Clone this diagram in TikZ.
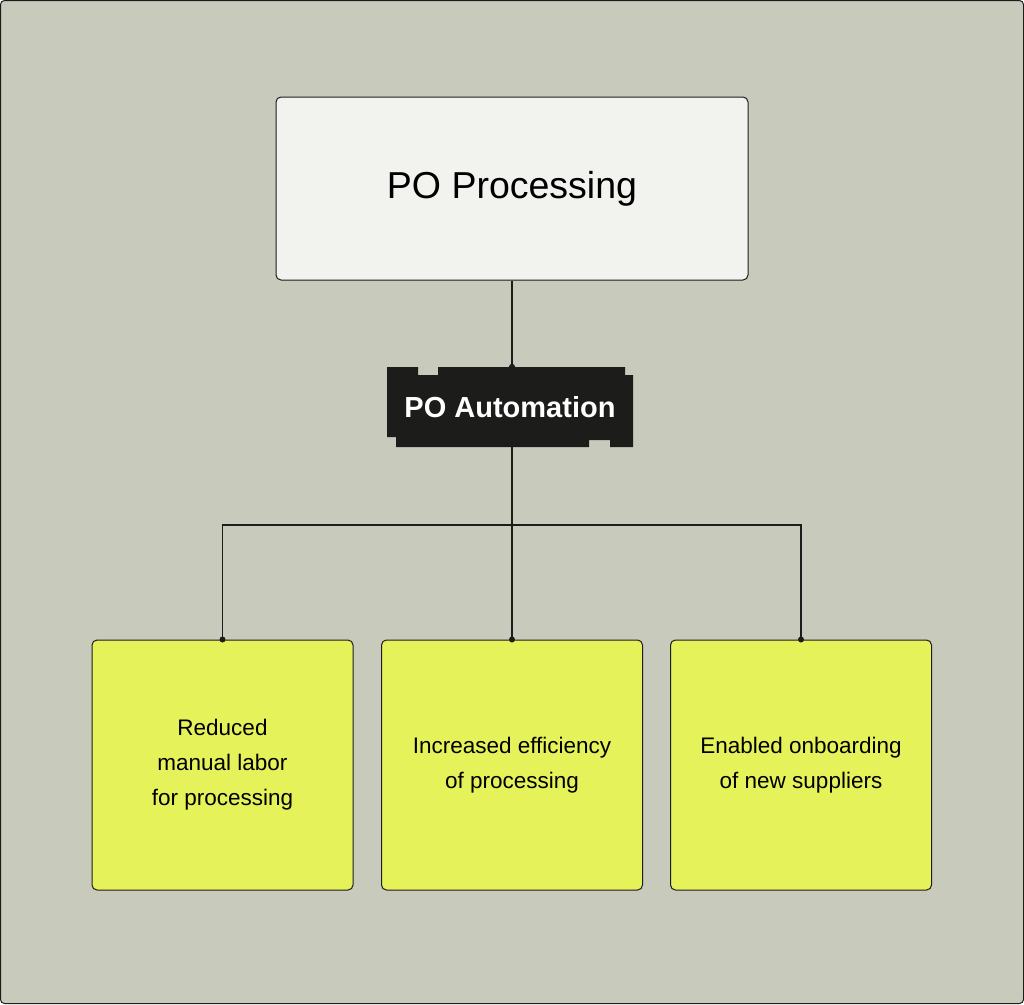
\documentclass[tikz,border=0pt]{standalone}
\usepackage{fontspec}
\setmainfont{Liberation Sans}
\definecolor{bg}{HTML}{C8CABC}
\definecolor{topf}{HTML}{F2F2EF}
\definecolor{yel}{HTML}{E6F25A}
\definecolor{ink}{HTML}{1C1C1A}
\begin{document}
\begin{tikzpicture}[x=1pt,y=-1pt,
  box/.style={draw=ink,line width=1pt,rounded corners=5pt,inner sep=0pt},
  leaf/.style={box,fill=yel,minimum width=261pt,minimum height=250pt,align=center,font=\fontsize{22.5}{35}\selectfont},
  conn/.style={draw=ink,line width=1.2pt},
  dot/.style={circle,fill=ink,inner sep=0pt,minimum size=6pt}]
\useasboundingbox (0,0) rectangle (1024,1004);
\fill[bg,draw=ink,line width=1pt,rounded corners=4pt] (0.5,0.5) rectangle (1023.5,1003.5);
\node[box,fill=topf,minimum width=472pt,minimum height=183pt,font=\fontsize{37.5}{42}\selectfont] (top) at (512,188.5) {PO Processing};
\fill[ink] (387,367) -- (418,367) -- (418,375) -- (438,375) -- (438,367) -- (625,367) -- (625,375) -- (633,375) -- (633,447) -- (610,447) -- (610,440) -- (589,440) -- (589,447) -- (396,447) -- (396,437) -- (387,437) -- cycle;
\node[text=white,font=\bfseries\fontsize{29}{32}\selectfont,inner sep=0pt,minimum width=246pt,minimum height=80pt] (auto) at (510,407) {PO Automation};
\node[leaf] (l1) at (222.5,765) {Reduced\\manual labor\\for processing};
\node[leaf] (l2) at (512,765) {Increased efficiency\\of processing};
\node[leaf] (l3) at (801,765) {Enabled onboarding\\of new suppliers};
\coordinate (j) at (512,525);
\draw[conn] (top.south) -- (auto.north -| top.south);
\draw[conn] (auto.south -| top.south) -- (j);
\draw[conn] (l1.north) |- (j) -| (l3.north);
\draw[conn] (j) -- (l2.north);
\node[dot] at (auto.north -| top.south) {};
\node[dot] at (l1.north) {};
\node[dot] at (l2.north) {};
\node[dot] at (l3.north) {};
\end{tikzpicture}
\end{document}
